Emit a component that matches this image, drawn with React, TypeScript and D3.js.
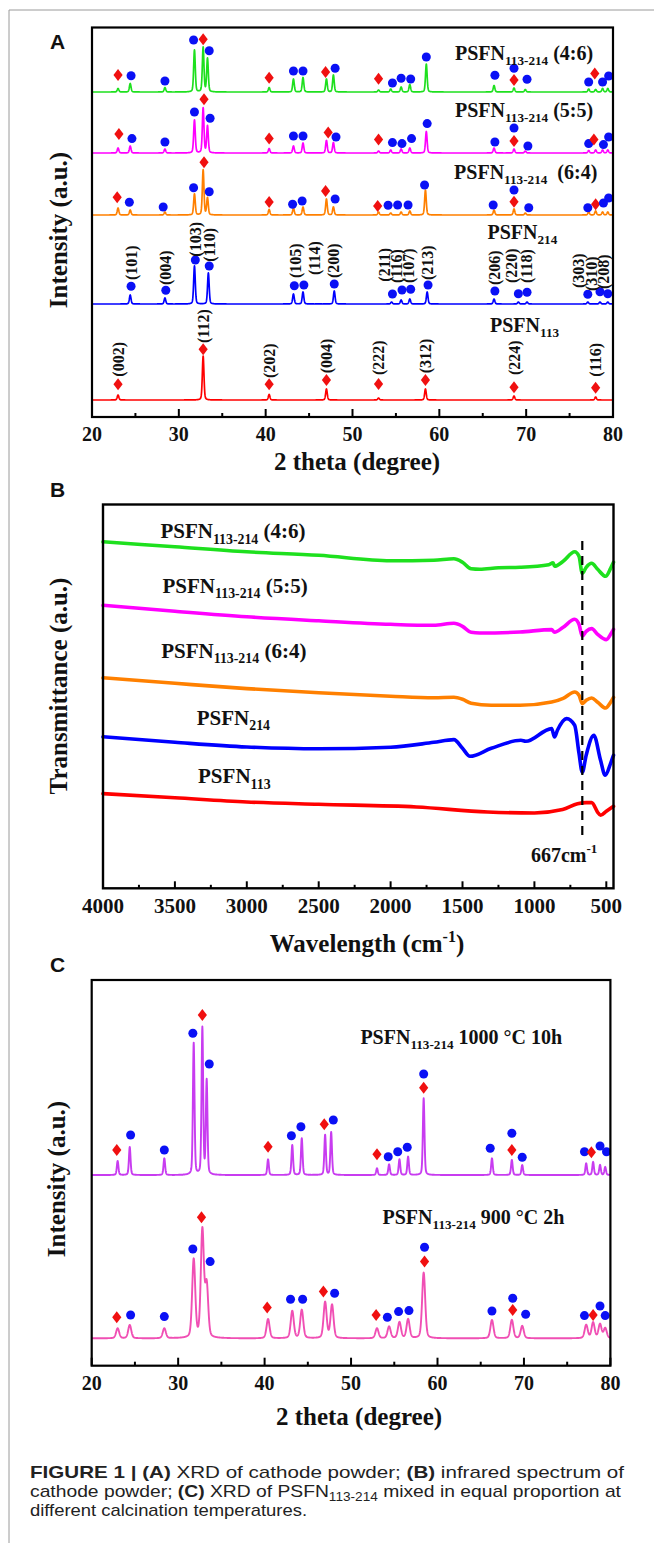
import React from "react";
import * as d3 from "d3";

const serif = "'Liberation Serif','Times New Roman',serif";
const sans = "'Liberation Sans',Arial,sans-serif";

type Peak = [number, number];
type Mark = [number, number, "c" | "d"];
type HKL = [number, number, string];
type Pt = [number, number];

// ---------- Panel A: XRD of cathode powder ----------
const xrdTicksMajor = [20, 30, 40, 50, 60, 70, 80];
const xrdTicksMinor = [25, 35, 45, 55, 65, 75];

const greenPeaks: Peak[] = [[23.0,3.5],[24.4,8.5],[28.4,4.5],[31.8,42],[32.8,44.5],[33.3,33.5],[40.4,4.5],[43.2,13],[44.3,14.5],[47.0,13],[47.8,17],[53.0,2],[54.4,3],[55.6,5],[56.6,7.5],[58.5,28],[66.3,6.5],[68.6,4],[69.9,2.5],[77.2,3],[78.0,2.5],[78.8,3.5],[79.4,3.5]];
const greenMarks: Mark[] = [[23.0,17,"d"],[24.5,16.3,"c"],[28.4,11,"c"],[31.7,52,"c"],[32.8,52.7,"d"],[33.5,41.3,"c"],[40.4,14.3,"d"],[43.2,21,"c"],[44.3,21,"c"],[46.9,20,"d"],[48.0,23.7,"c"],[53.0,13.3,"d"],[54.6,9,"c"],[55.6,13.7,"c"],[56.7,13,"c"],[58.5,35,"c"],[66.4,16.7,"c"],[68.6,23.7,"c"],[68.6,12,"d"],[70.1,12.7,"c"],[77.2,10,"c"],[77.9,18.5,"d"],[78.8,10,"c"],[79.5,16,"c"]];

const magentaPeaks: Peak[] = [[23.0,5],[24.4,7],[28.4,4],[31.8,33],[32.8,45],[33.3,27],[40.4,4.5],[43.2,7],[44.3,10],[47.0,12.5],[47.8,10.5],[53.0,2],[54.4,3],[55.6,4],[56.6,5],[58.5,21.5],[66.3,5],[68.6,4],[69.9,2],[77.2,2.5],[78.0,3],[78.8,3],[79.4,3]];
const magentaMarks: Mark[] = [[23.1,19,"d"],[24.6,14.4,"c"],[28.4,11,"c"],[31.8,41,"c"],[32.9,53.7,"d"],[33.6,34.7,"c"],[40.4,14.4,"d"],[43.2,17,"c"],[44.3,17,"c"],[47.2,20.4,"d"],[48.1,16,"c"],[53.0,13.4,"d"],[54.6,10.4,"c"],[55.7,9.4,"c"],[56.8,14.4,"c"],[58.6,29.4,"c"],[66.4,11,"c"],[68.6,25,"c"],[68.6,12,"d"],[70.2,7,"c"],[77.2,9.4,"c"],[77.8,13.4,"d"],[78.9,8.4,"c"],[79.5,16,"c"]];

const orangePeaks: Peak[] = [[23.0,7],[24.4,5],[28.4,3],[31.8,21],[32.8,45],[33.3,17],[40.4,5.5],[43.2,7],[44.3,8],[47.0,16],[47.8,8],[53.0,3],[54.4,2],[55.6,3],[56.6,4],[58.4,25],[66.3,5],[68.6,6],[69.9,2],[77.2,3],[78.0,4],[78.8,3],[79.4,3]];
const orangeMarks: Mark[] = [[22.9,17.7,"d"],[24.3,12.7,"c"],[28.2,8,"c"],[31.7,27.3,"c"],[32.9,52.7,"d"],[33.5,23.3,"c"],[40.4,13,"d"],[43.1,10.7,"c"],[44.2,14,"c"],[46.9,24,"d"],[48.0,16,"c"],[52.9,9,"d"],[54.1,9.7,"c"],[55.2,10,"c"],[56.4,10,"c"],[58.3,30,"c"],[66.2,10,"c"],[68.6,25,"c"],[68.6,13.3,"d"],[70.3,7.3,"c"],[77.1,7.3,"c"],[78.0,10.7,"d"],[78.9,12,"c"],[79.5,17,"c"]];

const bluePeaks: Peak[] = [[24.4,9],[28.4,6],[31.8,38],[33.4,31],[43.2,10],[44.3,12],[47.9,13],[54.5,2],[55.6,4],[56.6,5],[58.6,12],[66.3,5],[69.1,2],[70.1,2],[77.1,2],[78.5,2],[79.4,2]];
const blueMarks: Mark[] = [[24.5,17.7,"c"],[28.5,13.7,"c"],[31.9,44,"c"],[33.5,38,"c"],[43.3,18.3,"c"],[44.4,19,"c"],[47.9,20,"c"],[54.6,10,"c"],[55.7,14,"c"],[56.7,14.7,"c"],[58.7,19,"c"],[66.4,13,"c"],[69.1,10.3,"c"],[70.1,11.7,"c"],[77.1,9.7,"c"],[78.5,12.3,"c"],[79.4,10.3,"c"]];
const blueHKL: HKL[] = [[24.5,24,"(101)"],[28.5,19,"(004)"],[31.9,47.3,"(103)"],[33.5,42.3,"(110)"],[43.4,26,"(105)"],[45.6,29,"(114)"],[47.8,26,"(200)"],[53.7,22.3,"(211)"],[55.1,21,"(116)"],[56.4,21,"(107)"],[58.6,24,"(213)"],[66.4,19,"(206)"],[68.3,21,"(220)"],[70.0,21,"(118)"],[76.0,16,"(303)"],[77.5,13,"(310)"],[78.9,15,"(208)"]];

const redPeaks: Peak[] = [[23.0,5],[32.8,44],[40.4,5.5],[47.0,11],[53.0,2],[58.4,11],[68.6,4],[78.0,3]];
const redMarks: Mark[] = [[23.0,15.7,"d"],[32.8,50.7,"d"],[40.4,15.7,"d"],[47.0,20,"d"],[53.0,16,"d"],[58.4,20,"d"],[68.6,12.7,"d"],[78.0,12.3,"d"]];
const redHKL: HKL[] = [[23.1,23.3,"(002)"],[32.8,57,"(112)"],[40.4,22,"(202)"],[47.0,26.7,"(004)"],[53.0,25,"(222)"],[58.4,26.7,"(312)"],[68.6,25,"(224)"],[78.0,23.3,"(116)"]];

const seriesA = [
  { name: "4:6", color: "#1ee01e", offset: 325, peaks: greenPeaks, marks: greenMarks, sub: "113-214", suffix: " (4:6)", lx: 61.8, ly: 357 },
  { name: "5:5", color: "#ff00ff", offset: 264, peaks: magentaPeaks, marks: magentaMarks, sub: "113-214", suffix: " (5:5)", lx: 61.8, ly: 300 },
  { name: "6:4", color: "#ff8000", offset: 202, peaks: orangePeaks, marks: orangeMarks, sub: "113-214", suffix: "  (6:4)", lx: 61.7, ly: 238 },
  { name: "214", color: "#0000ff", offset: 113, peaks: bluePeaks, marks: blueMarks, sub: "214", suffix: "", lx: 65.55, ly: 178 },
  { name: "113", color: "#ff0000", offset: 17, peaks: redPeaks, marks: redMarks, sub: "113", suffix: "", lx: 65.84, ly: 85 },
];

// ---------- Panel B: infrared spectrum ----------
const irTicksMajor = [4000, 3500, 3000, 2500, 2000, 1500, 1000, 500];
const irTicksMinor = [3750, 3250, 2750, 2250, 1750, 1250, 750];

const irGreen: Pt[] = [[4000,346.5],[3500,341.5],[3000,336.5],[2500,333],[2000,327.5],[1700,328],[1560,329.5],[1500,326],[1440,319.5],[1380,319],[1250,320.5],[1100,321],[900,323.5],[870,325.5],[860,322],[800,327],[720,336.5],[690,332],[667,315],[640,321],[602,325],[560,319],[505,312],[470,320],[450,326]];
const irMagenta: Pt[] = [[4000,283],[3500,277],[3000,271.5],[2500,267.5],[2000,264],[1700,263],[1560,265],[1500,262],[1440,256],[1380,255.3],[1100,256.3],[880,258.7],[860,256],[800,261],[720,269],[690,264],[667,252.3],[640,257],[602,259.7],[560,254],[500,248.7],[470,254],[450,259]];
const irOrange: Pt[] = [[4000,210.5],[3500,205],[3000,199.7],[2500,195.5],[2000,192],[1700,190.5],[1560,191],[1500,189],[1440,185],[1300,183],[1100,183],[880,186.3],[800,190],[720,196.3],[690,193],[667,184.7],[640,188],[602,190.3],[560,186],[505,180.3],[470,186],[450,191]];
const irBlue: Pt[] = [[4000,151.5],[3500,146],[3000,141.3],[2500,139.5],[2000,141],[1700,146],[1560,148.7],[1500,140],[1448,132],[1300,140],[1094,148],[1060,147],[880,159.7],[860,151.3],[840,158],[776,169.7],[720,163],[690,135],[667,116],[640,133],[587,153],[540,128],[508,113],[470,125],[450,133]];
const irRed: Pt[] = [[4000,94.7],[3500,90.5],[3000,86.3],[2500,84],[1820,81.3],[1326,76.3],[1000,75.3],[804,78.7],[700,84.5],[640,85.7],[602,85.7],[560,76],[540,73],[500,77],[450,82]];

const seriesB = [
  { color: "#1ee01e", data: irGreen, sub: "113-214", suffix: " (4:6)", lx: 3601, ly: 350 },
  { color: "#ff00ff", data: irMagenta, sub: "113-214", suffix: " (5:5)", lx: 3586, ly: 295.6 },
  { color: "#ff8000", data: irOrange, sub: "113-214", suffix: " (6:4)", lx: 3595, ly: 230.6 },
  { color: "#0000ff", data: irBlue, sub: "214", suffix: "", lx: 3348, ly: 163.3 },
  { color: "#ff0000", data: irRed, sub: "113", suffix: "", lx: 3339, ly: 105 },
];
const irMarkerWn = 667;

// ---------- Panel C: XRD at calcination temperatures ----------
const upperPeaks: Peak[] = [[23.0,14],[24.4,28],[28.4,16.7],[31.8,131.7],[32.8,146.7],[33.3,94],[40.4,15.7],[43.2,30],[44.3,36.7],[47.0,40],[47.7,42.7],[53.0,6.7],[54.4,10.7],[55.6,15.7],[56.6,18.3],[58.4,76.7],[66.3,16.7],[68.6,15],[69.8,10],[77.2,11.7],[78.0,13],[78.8,10],[79.4,8]];
const upperMarks: Mark[] = [[22.9,25,"d"],[24.5,40,"c"],[28.4,25,"c"],[31.7,141.7,"c"],[32.8,160,"d"],[33.6,111,"c"],[40.4,28.3,"d"],[43.1,39.3,"c"],[44.2,48.3,"c"],[46.9,50.7,"d"],[47.95,55,"c"],[53.0,20.7,"d"],[54.3,18.3,"c"],[55.4,23.3,"c"],[56.5,27.7,"c"],[58.4,101,"c"],[58.4,87.3,"d"],[66.1,26.7,"c"],[68.6,41.7,"c"],[68.6,25,"d"],[69.8,17.7,"c"],[77.0,23.3,"c"],[77.8,22.7,"d"],[78.8,29,"c"],[79.55,23.3,"c"]];

const lowerPeaks: Peak[] = [[23.0,10],[24.4,13.3],[28.4,10],[31.8,78.3],[32.8,107.3],[33.3,52],[40.4,19.3],[43.2,27.3],[44.3,28.3],[47.0,36],[47.8,33.3],[53.0,10],[54.4,11.7],[55.6,16],[56.6,19],[58.4,65.6],[66.3,18.3],[68.6,18.3],[69.8,12.3],[77.2,13.3],[78.0,15.7],[78.8,14],[79.4,10]];
const lowerMarks: Mark[] = [[22.9,21,"d"],[24.5,23.3,"c"],[28.4,21.7,"c"],[31.7,89.3,"c"],[32.7,121,"d"],[33.7,76.7,"c"],[40.3,30.7,"d"],[43.0,39,"c"],[44.4,39,"c"],[46.8,46.7,"d"],[48.1,45,"c"],[52.9,23.3,"d"],[54.2,21,"c"],[55.5,26.7,"c"],[56.7,27.7,"c"],[58.5,91,"c"],[58.5,76.7,"d"],[66.3,27.3,"c"],[68.7,40,"c"],[68.7,28.3,"d"],[70.2,24,"c"],[77.0,22.7,"c"],[78.0,23.3,"d"],[78.8,32.3,"c"],[79.4,22.7,"c"]];

const seriesC = [
  { color: "#c83cf0", offset: 190.7, peaks: upperPeaks, marks: upperMarks, fwhm: 0.22, suffix: " 1000 °C 10h", lx: 51.08, ly: 321.7 },
  { color: "#f04fb4", offset: 27.4, peaks: lowerPeaks, marks: lowerMarks, fwhm: 0.42, suffix: " 900 °C 2h", lx: 53.64, ly: 141.7 },
];

// ---------- Caption ----------
const captionLines = [
  [["FIGURE 1 | (A)", true], [" XRD of cathode powder; ", false], ["(B)", true], [" infrared spectrum of", false]],
  [["cathode powder; ", false], ["(C)", true], [" XRD of PSFN", false], ["113-214", "sub"], [" mixed in equal proportion at", false]],
  [["different calcination temperatures.", false]],
] as [string, boolean | "sub"][][];
const captionWidths = [594, 591, 277];

// ---------- helpers ----------
function profileAt(peaks: Peak[], fwhm: number, t: number) {
  const hw = fwhm / 2;
  let s = 0;
  for (const [p, h] of peaks) {
    const u = (t - p) / hw;
    const u2 = u * u;
    if (u2 > 400) continue;
    s += h * (0.3 / (1 + u2) + 0.7 * Math.exp(-Math.LN2 * u2));
  }
  return s;
}

function xrdPath(peaks: Peak[], offset: number, fwhm: number, xs: d3.ScaleLinear<number, number>, ys: d3.ScaleLinear<number, number>) {
  const grid = d3.range(20, 80.0001, 0.02);
  const pts: Pt[] = grid.map((t) => [t, offset + profileAt(peaks, fwhm, t)]);
  return d3.line<Pt>().x((d) => xs(d[0])).y((d) => ys(d[1]))(pts) || "";
}

const diamond = "M0,-6L4.6,0L0,6L-4.6,0Z";
const BLUE_M = "#0a10f5";
const RED_M = "#f01010";

function Markers({ marks, offset, xs, ys }: { marks: Mark[]; offset: number; xs: any; ys: any }) {
  return (
    <g>
      {marks.map((m, i) =>
        m[2] === "c" ? (
          <circle key={i} cx={xs(m[0])} cy={ys(offset + m[1])} r={4.5} fill={BLUE_M} />
        ) : (
          <path key={i} d={diamond} transform={`translate(${xs(m[0])},${ys(offset + m[1])})`} fill={RED_M} />
        )
      )}
    </g>
  );
}

function PLabel({ x, y, sub, suffix, size }: { x: number; y: number; sub: string; suffix: string; size: number }) {
  return (
    <text x={x} y={y} fontFamily={serif} fontWeight="bold" fontSize={size} fill="#111" style={{ whiteSpace: "pre" }}>
      PSFN
      <tspan fontSize={size * 0.66} dy={size * 0.26}>{sub}</tspan>
      <tspan dy={-size * 0.26}>{suffix}</tspan>
    </text>
  );
}

function HKLLabels({ items, offset, xs, ys }: { items: HKL[]; offset: number; xs: any; ys: any }) {
  return (
    <g>
      {items.map((h, i) => (
        <text key={i} transform={`translate(${xs(h[0])},${ys(offset + h[1])}) rotate(-90)`} fontFamily={serif} fontWeight="bold" fontSize={16} dominantBaseline="central" fill="#111">
          {h[2]}
        </text>
      ))}
    </g>
  );
}

function BottomTicks({ xs, y, major, minor, lenMaj, lenMin, labelY, fs }: any) {
  return (
    <g>
      {major.map((t: number) => (
        <line key={"M" + t} x1={xs(t)} x2={xs(t)} y1={y} y2={y - lenMaj} stroke="#000" strokeWidth={2} />
      ))}
      {minor.map((t: number) => (
        <line key={"m" + t} x1={xs(t)} x2={xs(t)} y1={y} y2={y - lenMin} stroke="#000" strokeWidth={2} />
      ))}
      {major.map((t: number) => (
        <text key={"L" + t} x={xs(t)} y={labelY} textAnchor="middle" fontFamily={serif} fontWeight="bold" fontSize={fs} fill="#111">
          {t}
        </text>
      ))}
    </g>
  );
}

export default function App() {
  // Panel A scales
  const xA = d3.scaleLinear().domain([20, 80]).range([92, 613]);
  const yA = d3.scaleLinear().domain([0, 389.5]).range([417, 27.5]);
  // Panel B scales
  const xB = d3.scaleLinear().domain([4000, 450]).range([103, 613.5]);
  const yB = d3.scaleLinear().domain([0, 383.8]).range([888.3, 504.5]);
  // Panel C scales
  const xC = d3.scaleLinear().domain([20, 80]).range([91.7, 610.4]);
  const yC = d3.scaleLinear().domain([0, 385.7]).range([1365.7, 980]);

  const irLine = d3.line<Pt>().x((d) => xB(d[0])).y((d) => yB(d[1])).curve(d3.curveMonotoneX);

  return (
    <div style={{ position: "absolute", left: 0, top: 0 }}>
      <svg width={654} height={1543} viewBox="0 0 654 1543" style={{ display: "block", background: "#fff" }}>
        <rect x={0} y={0} width={654} height={1543} fill="#fff" />
        {/* page border */}
        <line x1={9} x2={654} y1={10} y2={10} stroke="#9a9a9a" strokeWidth={1} />
        <line x1={9} x2={9} y1={10} y2={1543} stroke="#9a9a9a" strokeWidth={1} />

        {/* ===== Panel A ===== */}
        <text x={50} y={49} fontFamily={sans} fontWeight="bold" fontSize={21} fill="#111">A</text>
        <g>
          {seriesA.map((s, i) => (
            <path key={i} d={xrdPath(s.peaks, s.offset, 0.22, xA, yA)} fill="none" stroke={s.color} strokeWidth={1.7} strokeLinejoin="round" />
          ))}
          {seriesA.map((s, i) => (
            <Markers key={i} marks={s.marks} offset={s.offset} xs={xA} ys={yA} />
          ))}
          <HKLLabels items={blueHKL} offset={113} xs={xA} ys={yA} />
          <HKLLabels items={redHKL} offset={17} xs={xA} ys={yA} />
          {seriesA.map((s, i) => (
            <PLabel key={i} x={xA(s.lx)} y={yA(s.ly)} sub={s.sub} suffix={s.suffix} size={20} />
          ))}
        </g>
        <rect x={92} y={27.5} width={521} height={389.5} fill="none" stroke="#000" strokeWidth={2.2} />
        <BottomTicks xs={xA} y={417} major={xrdTicksMajor} minor={xrdTicksMinor} lenMaj={8} lenMin={4} labelY={441} fs={20} />
        <text x={357} y={470} textAnchor="middle" fontFamily={serif} fontWeight="bold" fontSize={25} fill="#111">2 theta (degree)</text>
        <text transform="translate(58,230) rotate(-90)" textAnchor="middle" dominantBaseline="central" fontFamily={serif} fontWeight="bold" fontSize={25} fill="#111">Intensity (a.u.)</text>

        {/* ===== Panel B ===== */}
        <text x={50} y={497} fontFamily={sans} fontWeight="bold" fontSize={21} fill="#111">B</text>
        <g>
          {seriesB.map((s, i) => (
            <path key={i} d={irLine(s.data) || ""} fill="none" stroke={s.color} strokeWidth={3.6} strokeLinejoin="round" strokeLinecap="round" />
          ))}
          <line x1={xB(irMarkerWn)} x2={xB(irMarkerWn)} y1={541} y2={841} stroke="#000" strokeWidth={2.2} strokeDasharray="9,6" />
          {seriesB.map((s, i) => (
            <PLabel key={i} x={xB(s.lx)} y={yB(s.ly)} sub={s.sub} suffix={s.suffix} size={21} />
          ))}
          <text x={xB(1024)} y={yB(26.6)} fontFamily={serif} fontWeight="bold" fontSize={20} fill="#111">
            667cm
            <tspan fontSize={13} dy={-9}>-1</tspan>
          </text>
        </g>
        <rect x={103} y={504.5} width={510.5} height={383.8} fill="none" stroke="#000" strokeWidth={2.4} />
        <BottomTicks xs={xB} y={888.3} major={irTicksMajor} minor={irTicksMinor} lenMaj={7} lenMin={3.5} labelY={912.7} fs={21} />
        <text x={367} y={951.7} textAnchor="middle" fontFamily={serif} fontWeight="bold" fontSize={25} fill="#111">
          Wavelength (cm
          <tspan fontSize={16} dy={-10}>-1</tspan>
          <tspan dy={10}>)</tspan>
        </text>
        <text transform="translate(58,686) rotate(-90)" textAnchor="middle" dominantBaseline="central" fontFamily={serif} fontWeight="bold" fontSize={25} fill="#111">Transmittance (a.u.)</text>

        {/* ===== Panel C ===== */}
        <text x={50} y={972} fontFamily={sans} fontWeight="bold" fontSize={21} fill="#111">C</text>
        <g>
          {seriesC.map((s, i) => (
            <path key={i} d={xrdPath(s.peaks, s.offset, s.fwhm, xC, yC)} fill="none" stroke={s.color} strokeWidth={1.9} strokeLinejoin="round" />
          ))}
          {seriesC.map((s, i) => (
            <Markers key={i} marks={s.marks} offset={s.offset} xs={xC} ys={yC} />
          ))}
          {seriesC.map((s, i) => (
            <PLabel key={i} x={xC(s.lx)} y={yC(s.ly)} sub="113-214" suffix={s.suffix} size={20} />
          ))}
        </g>
        <rect x={91.7} y={980} width={518.7} height={385.7} fill="none" stroke="#000" strokeWidth={2.2} />
        <BottomTicks xs={xC} y={1365.7} major={xrdTicksMajor} minor={xrdTicksMinor} lenMaj={8} lenMin={4} labelY={1390} fs={20} />
        <text x={359} y={1425} textAnchor="middle" fontFamily={serif} fontWeight="bold" fontSize={25} fill="#111">2 theta (degree)</text>
        <text transform="translate(56,1179) rotate(-90)" textAnchor="middle" dominantBaseline="central" fontFamily={serif} fontWeight="bold" fontSize={25} fill="#111">Intensity (a.u.)</text>

        {/* ===== Caption ===== */}
        <g fontFamily={sans} fontSize={17} fill="#222" style={{ whiteSpace: "pre" }}>
          {captionLines.map((line, li) => (
            <text key={li} x={30} y={1478 + li * 19} textLength={captionWidths[li]} lengthAdjust="spacingAndGlyphs">
              {line.map((seg, si) =>
                seg[1] === "sub" ? (
                  <tspan key={si} fontSize={12} dy={4}>{seg[0]}</tspan>
                ) : (
                  <tspan key={si} fontWeight={seg[1] ? "bold" : "normal"} dy={si > 0 && line[si - 1][1] === "sub" ? -4 : 0}>{seg[0]}</tspan>
                )
              )}
            </text>
          ))}
        </g>
      </svg>
    </div>
  );
}
